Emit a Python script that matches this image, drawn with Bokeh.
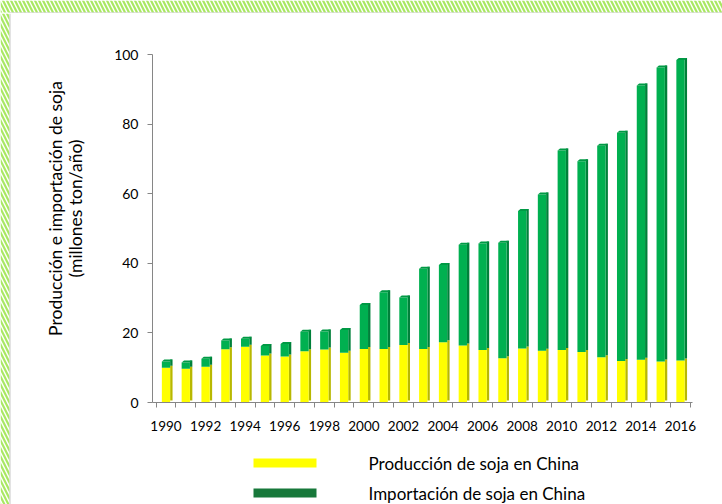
import math
from bokeh.plotting import figure
from bokeh.layouts import row, column
from bokeh.models import FixedTicker, Range1d, ColumnDataSource
from bokeh.core.properties import value
from bokeh.embed import file_html
from bokeh.resources import INLINE

# ---------------- data ----------------
years = list(range(1990, 2017))
production = [10.0, 9.7, 10.3, 15.3, 16.0, 13.5, 13.2, 14.7, 15.2, 14.3,
              15.4, 15.4, 16.5, 15.4, 17.3, 16.4, 15.1, 12.7, 15.5, 14.9,
              15.1, 14.5, 13.0, 11.9, 12.3, 11.8, 12.1]
imports = [1.8, 1.8, 2.3, 2.5, 2.3, 2.7, 3.6, 5.6, 5.2, 6.5,
           12.6, 16.3, 13.7, 23.0, 22.2, 28.9, 30.6, 33.2, 39.5, 44.9,
           57.3, 54.8, 60.8, 65.6, 78.8, 84.5, 86.3]
y_ticks = [0, 20, 40, 60, 80, 100]
x_tick_years = list(range(1990, 2017, 2))
series_names = ["Producción de soja en China", "Importación de soja en China"]
y_title = ["Producción e importación de soja", "(millones ton/año)"]

# ---------------- styles ----------------
FONT = "Lato"
YELLOW, YELLOW_SIDE = "#FFFF00", "#B8B800"
GREEN, GREEN_SIDE, GREEN_TOP = "#00B050", "#00803A", "#009A45"
LEG_COLORS = ["#FFFF00", "#17783A"]
AXIS = "#868686"
HATCH = "#A9E862"
EDGE = "#C8C8C8"

TOTAL_W, TOTAL_H = 722, 504
TOP_H = 13                    # hatched top strip
LEFT_W = 100                  # y-title strip
MAIN_BOTTOM = 448             # page y where chart ends / legend starts
MAIN_W = TOTAL_W - LEFT_W
MAIN_H = MAIN_BOTTOM - TOP_H
LEG_H = TOTAL_H - MAIN_BOTTOM

FL, FR, FT, FB = 152, 692, 54, 402    # frame edges, page coords
x0c, x1c = 165.5, 680.0               # page x of first / last bar
pxu = (x1c - x0c) / (len(years) - 1)
xs = years[0] - (x0c - FL) / pxu
xe = years[-1] + (FR - x1c) / pxu
ypx = (FB - FT) / 100.0


def page_x(px):
    return xs + (px - FL) / pxu


def blank(w, h, xr, yr, **kw):
    f = figure(width=w, height=h, output_backend="svg", toolbar_location=None,
               x_range=xr, y_range=yr, min_border=0, **kw)
    f.axis.visible = False
    f.grid.visible = False
    f.outline_line_color = None
    f.background_fill_color = "white"
    f.border_fill_color = "white"
    return f


HATCH_KW = dict(fill_color="white", line_color=None, hatch_pattern="\\",
                hatch_color=HATCH, hatch_scale=8, hatch_weight=2.2)

# ---------------- hatched top strip ----------------
top = blank(TOTAL_W, TOP_H, Range1d(0, TOTAL_W), Range1d(-TOP_H, 0))
top.quad(left=[0], right=[TOTAL_W], top=[0], bottom=[-12], **HATCH_KW)
top.segment(x0=[9], y0=[-12.5], x1=[TOTAL_W], y1=[-12.5],
            line_color=EDGE, line_width=1)

# ---------------- main chart ----------------
p = figure(width=MAIN_W, height=MAIN_H, output_backend="svg",
           toolbar_location=None,
           x_range=Range1d(xs, xe), y_range=Range1d(0, 100),
           min_border_left=FL - LEFT_W, min_border_right=TOTAL_W - FR,
           min_border_top=FT - TOP_H, min_border_bottom=MAIN_BOTTOM - FB)
p.outline_line_color = None
p.xgrid.visible = False
p.ygrid.visible = False
p.background_fill_color = "white"
p.border_fill_color = "white"

bw = 8.3 / pxu        # front face width
sw = 2.4 / pxu        # side face depth
rise = 2.0 / ypx      # perspective rise

tot = [a + b for a, b in zip(production, imports)]
src = ColumnDataSource(dict(x=years, prod=production, tot=tot,
                            zero=[0] * len(years)))

side_x = [y + bw / 2 + sw / 2 for y in years]
p.vbar(x=side_x, bottom=[rise] * len(years), top=[v + rise for v in production],
       width=sw, fill_color=YELLOW_SIDE, line_color=None)
p.vbar(x=side_x, bottom=[v + rise for v in production], top=[v + rise for v in tot],
       width=sw, fill_color=GREEN_SIDE, line_color=None)
p.vbar(x="x", bottom="zero", top="prod", width=bw, source=src,
       fill_color=YELLOW, line_color=None)
p.vbar(x="x", bottom="prod", top="tot", width=bw, source=src,
       fill_color=GREEN, line_color=None)
cap_xs, cap_ys = [], []
for y, t in zip(years, tot):
    l, r = y - bw / 2, y + bw / 2
    cap_xs.append([l, l + sw, r + sw, r])
    cap_ys.append([t, t + rise, t + rise, t])
p.patches(cap_xs, cap_ys, fill_color=GREEN_TOP, line_color=None)

p.yaxis.ticker = FixedTicker(ticks=y_ticks)
p.yaxis.axis_line_color = AXIS
p.yaxis.major_tick_line_color = AXIS
p.yaxis.major_tick_out = 5
p.yaxis.major_tick_in = 0
p.yaxis.minor_tick_line_color = None
p.yaxis.major_label_standoff = 9
p.yaxis.major_label_text_font = FONT
p.yaxis.major_label_text_font_size = "14px"
p.yaxis.major_label_text_color = "black"

p.xaxis.ticker = FixedTicker(ticks=x_tick_years,
                             minor_ticks=[y - 0.5 for y in years] + [years[-1] + 0.5])
p.xaxis.axis_line_color = AXIS
p.xaxis.major_tick_line_color = None
p.xaxis.major_tick_out = 0
p.xaxis.major_tick_in = 0
p.xaxis.minor_tick_line_color = AXIS
p.xaxis.minor_tick_out = 5
p.xaxis.minor_tick_in = 0
p.xaxis.major_label_standoff = 13
p.xaxis.major_label_text_font = FONT
p.xaxis.major_label_text_font_size = "13.5px"
p.xaxis.major_label_text_color = "black"

# ---------------- y-title strip (with hatched left edge) ----------------
ttl = blank(LEFT_W, TOTAL_H - TOP_H, Range1d(0, LEFT_W), Range1d(-TOTAL_H, -TOP_H))
ttl.quad(left=[0], right=[9], top=[-TOP_H], bottom=[-TOTAL_H], **HATCH_KW)
ttl.segment(x0=[9.5], y0=[-TOP_H], x1=[9.5], y1=[-TOTAL_H],
            line_color=EDGE, line_width=1)
ttl.text(x=[55, 75], y=[-208, -208], text=y_title,
         angle=math.pi / 2, text_align="center", text_baseline="middle",
         text_font=value(FONT), text_font_size="17.5px", text_color="black")

# ---------------- legend strip ----------------
leg = figure(width=MAIN_W, height=LEG_H, output_backend="svg",
             toolbar_location=None, x_range=p.x_range,
             y_range=Range1d(-TOTAL_H, -MAIN_BOTTOM),
             min_border_left=FL - LEFT_W, min_border_right=TOTAL_W - FR,
             min_border_top=0, min_border_bottom=0)
leg.axis.visible = False
leg.grid.visible = False
leg.outline_line_color = None
leg.border_fill_color = "white"
sw_l, sw_r = page_x(253), page_x(316)
row_y = [-462.5, -492.5]
leg.rect(x=[(sw_l + sw_r) / 2] * 2, y=row_y, width=sw_r - sw_l, height=9,
         fill_color=LEG_COLORS, line_color=None)
leg.text(x=[page_x(368)] * 2, y=row_y, text=series_names,
         text_align="left", text_baseline="middle",
         text_font=value(FONT), text_font_size="17px", text_color="black")

layout = column(top, row(ttl, column(p, leg, spacing=0), spacing=0), spacing=0)
open("out.html", "w").write(file_html(layout, INLINE))
